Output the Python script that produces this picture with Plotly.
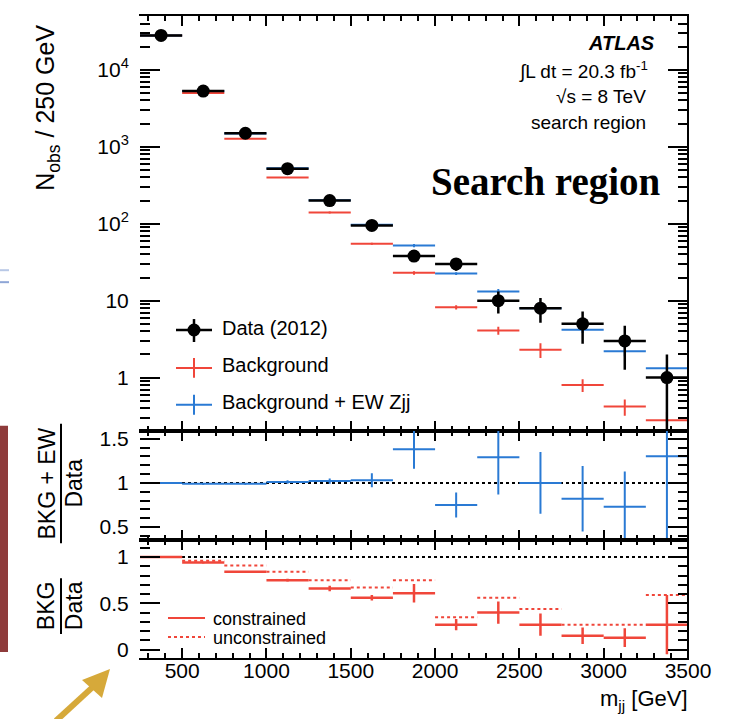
import numpy as np
import plotly.graph_objects as go

# m_jj binning (GeV)
bin_edges = [250, 500, 750, 1000, 1250, 1500, 1750, 2000, 2250, 2500, 2750, 3000, 3250, 3500]

# Main panel: observed events and predictions per 250 GeV
data_2012 = [28000, 5300, 1500, 520, 200, 95, 38, 30, 10, 8, 5, 3, 1]
background = [28000, 5000, 1270, 400, 140, 55, 23, 8.2, 4.1, 2.3, 0.8, 0.42, 0.28]
background_err = [300, 60, 15, 6, 4, 1.5, 1.2, 0.5, 0.5, 0.5, 0.15, 0.1, 0.08]
bkg_plus_ew = [28000, 5300, 1490, 525, 202, 97, 52, 22.5, 13.2, 8.0, 4.2, 2.2, 1.32]
bkg_plus_ew_err = [300, 60, 15, 6, 4, 2, 2.5, 1.0, 1.0, 1.0, 0.4, 0.3, 0.15]

# Middle panel: (BKG + EW) / Data
ratio_ew = [1.0, 0.99, 0.99, 1.01, 1.02, 1.03, 1.38, 0.75, 1.29, 1.0, 0.82, 0.73, 1.3]
ratio_ew_err = [0.01, 0.01, 0.01, 0.02, 0.03, 0.08, 0.22, 0.14, 0.42, 0.35, 0.37, 0.40, 1.3]

# Bottom panel: BKG / Data
ratio_bkg_constrained = [1.0, 0.94, 0.84, 0.75, 0.66, 0.56, 0.61, 0.27, 0.40, 0.27, 0.15, 0.13, 0.27]
ratio_bkg_constrained_err = [0.01, 0.01, 0.01, 0.015, 0.03, 0.03, 0.10, 0.06, 0.12, 0.12, 0.09, 0.10, 0.32]
ratio_bkg_unconstrained = [1.0, 0.96, 0.91, 0.84, 0.75, 0.67, 0.75, 0.35, 0.56, 0.44, 0.27, 0.27, 0.59]

RED = "#f0463a"
BLUE = "#2a7ad4"
BLACK = "#000000"
FONT = "Liberation Sans, Arial, sans-serif"

edges = np.array(bin_edges, dtype=float)
centers = 0.5 * (edges[:-1] + edges[1:])
half = 0.5 * (edges[1:] - edges[:-1])

W, H = 734, 719
ML, MR, MT, MB = 140, 46, 14, 61
PW, PH = W - ML - MR, H - MT - MB


def px(x):
    return (x - ML) / PW


def py(y):
    return (H - MB - y) / PH


def cross(x, y, ex, ey, color, thick, **kw):
    return go.Scatter(
        x=x, y=y, mode="markers", marker=dict(size=1, color=color),
        error_x=dict(type="data", array=ex, color=color, thickness=thick, width=0),
        error_y=dict(type="data", color=color, thickness=thick, width=0, **ey),
        showlegend=False, hoverinfo="skip", **kw)


fig = go.Figure()

# --- main panel ---
fig.add_trace(cross(centers, background, half, dict(array=background_err), RED, 2, xaxis="x", yaxis="y"))
fig.add_trace(cross(centers, bkg_plus_ew, half, dict(array=bkg_plus_ew_err), BLUE, 2, xaxis="x", yaxis="y"))
data_err = np.sqrt(np.array(data_2012, dtype=float))
data_err_lo = np.minimum(data_err, np.array(data_2012) * 0.999)
fig.add_trace(go.Scatter(
    x=centers, y=data_2012, mode="markers", xaxis="x", yaxis="y",
    marker=dict(size=13, color=BLACK),
    error_x=dict(type="data", array=half, color=BLACK, thickness=2.5, width=0),
    error_y=dict(type="data", array=data_err, arrayminus=data_err_lo,
                 color=BLACK, thickness=2.5, width=0),
    showlegend=False, hoverinfo="skip"))

# --- middle ratio panel ---
fig.add_trace(cross(centers, ratio_ew, half, dict(array=ratio_ew_err), BLUE, 2, xaxis="x2", yaxis="y2"))

# --- bottom ratio panel ---
ux, uy = [], []
for lo, hi, v in zip(edges[:-1], edges[1:], ratio_bkg_unconstrained):
    ux += [lo, hi, None]
    uy += [v, v, None]
fig.add_trace(go.Scatter(x=ux, y=uy, mode="lines", xaxis="x3", yaxis="y3",
                         line=dict(color=RED, width=2, dash="dot"),
                         showlegend=False, hoverinfo="skip"))
fig.add_trace(cross(centers, ratio_bkg_constrained, half, dict(array=ratio_bkg_constrained_err),
                    RED, 2.5, xaxis="x3", yaxis="y3"))

tickfont = dict(family=FONT, size=21, color=BLACK)


def xaxis(anchor, labels):
    return dict(
        domain=[0, 1], anchor=anchor, range=[250, 3500],
        showline=True, linecolor=BLACK, linewidth=2, mirror="ticks",
        ticks="inside", ticklen=10, tickwidth=2, tickcolor=BLACK,
        tick0=0, dtick=500, showgrid=False, zeroline=False,
        minor=dict(ticks="inside", ticklen=5, tickwidth=1.5, tickcolor=BLACK, dtick=100, tick0=0),
        showticklabels=labels, tickfont=tickfont, ticklabelstandoff=-7)


def yaxis(anchor, domain, **kw):
    d = dict(
        domain=domain, anchor=anchor, showline=True, linecolor="rgba(0,0,0,0)",
        mirror="ticks", ticks="inside", ticklen=20, tickwidth=2, tickcolor=BLACK,
        showgrid=False, zeroline=False, tickfont=tickfont, ticklabelstandoff=6)
    d.update(kw)
    return d


log_minor = [m * 10 ** k for k in range(-1, 5) for m in range(2, 10)]
lin_minor = [round(0.1 * i, 1) for i in range(-2, 17)]

D_TOP = py(430)
D_MID = py(540)

fig.update_layout(
    width=W, height=H,
    margin=dict(l=ML, r=MR, t=MT, b=MB),
    paper_bgcolor="white", plot_bgcolor="white",
    xaxis=xaxis("y", False),
    xaxis2=xaxis("y2", False),
    xaxis3=xaxis("y3", True),
    yaxis=yaxis("x", [D_TOP, 1], type="log", range=[-0.69, 4.70],
                tickvals=[1, 10, 100, 1000, 10000],
                ticktext=["1", "10", "10<sup>2</sup>", "10<sup>3</sup>", "10<sup>4</sup>"],
                minor=dict(ticks="inside", ticklen=10, tickwidth=1.5, tickcolor=BLACK,
                           tickmode="array", tickvals=log_minor)),
    yaxis2=yaxis("x2", [D_MID, D_TOP], range=[0.35, 1.59],
                 tickvals=[0.5, 1, 1.5], ticktext=["0.5", "1", "1.5"],
                 minor=dict(ticks="inside", ticklen=10, tickwidth=1.5, tickcolor=BLACK,
                            tickmode="array", tickvals=lin_minor)),
    yaxis3=yaxis("x3", [0, D_MID], range=[-0.09, 1.18],
                 tickvals=[0, 0.5, 1], ticktext=["0", "0.5", "1"],
                 minor=dict(ticks="inside", ticklen=10, tickwidth=1.5, tickcolor=BLACK,
                            tickmode="array", tickvals=lin_minor)),
)

shapes = []
# right-hand frame
shapes.append(dict(type="line", xref="paper", yref="paper", x0=1, x1=1, y0=0, y1=1,
                   line=dict(color=BLACK, width=2)))
# reference lines at unity
for ya in ("y2", "y3"):
    shapes.append(dict(type="line", xref="paper", yref=ya, x0=0, x1=1, y0=1, y1=1,
                       layer="below", line=dict(color=BLACK, width=2, dash="dot")))


def seg(x0, y0, x1, y1, color, width, dash=None):
    ln = dict(color=color, width=width)
    if dash:
        ln["dash"] = dash
    return dict(type="line", xref="paper", yref="paper",
                x0=px(x0), y0=py(y0), x1=px(x1), y1=py(y1), line=ln)


# legend symbols (main panel)
shapes += [
    seg(176, 329, 212, 329, BLACK, 2.5), seg(194, 318, 194, 341, BLACK, 2.5),
    dict(type="circle", xref="paper", yref="paper", x0=px(187.5), x1=px(200.5),
         y0=py(335.5), y1=py(322.5), fillcolor=BLACK, line=dict(color=BLACK, width=0)),
    seg(176, 367, 212, 367, RED, 2), seg(194, 357, 194, 377, RED, 2),
    seg(176, 404, 212, 404, BLUE, 2), seg(194, 394, 194, 414, BLUE, 2),
]
# legend symbols (bottom panel)
shapes += [
    seg(168, 618, 205, 618, RED, 2),
    seg(168, 637, 205, 637, RED, 2, dash="dot"),
]
# fraction bars of the ratio-panel titles
shapes += [
    seg(61, 423, 61, 543, BLACK, 2),
    seg(61, 578, 61, 634, BLACK, 2),
]
# page margin marks
shapes += [
    dict(type="rect", xref="paper", yref="paper", x0=px(0), x1=px(8), y0=py(652), y1=py(425),
         fillcolor="#8e3b3b", line=dict(width=0)),
    dict(type="rect", xref="paper", yref="paper", x0=px(0), x1=px(9), y0=py(270), y1=py(268),
         fillcolor="#b8c8e6", line=dict(width=0)),
    dict(type="rect", xref="paper", yref="paper", x0=px(0), x1=px(9), y0=py(282), y1=py(280),
         fillcolor="#8ea6d6", line=dict(width=0)),
    seg(56, 721, 94, 686, "#d6a93a", 6),
    dict(type="path", xref="paper", yref="paper",
         path=f"M {px(110)},{py(669)} L {px(82)},{py(680)} L {px(102)},{py(698)} Z",
         fillcolor="#d6a93a", line=dict(width=0)),
]

ann = []


def text(x, y, s, size=19, xanchor="left", angle=0, family=FONT, **kw):
    ann.append(dict(x=px(x), y=py(y), xref="paper", yref="paper", text=s, showarrow=False,
                    xanchor=xanchor, yanchor="middle", textangle=angle,
                    font=dict(family=family, size=size, color=BLACK), **kw))


text(220, 327, "Data (2012)", 20)
text(220, 364, "Background", 20)
text(220, 401, "Background + EW Zjj", 20)
text(211, 619, "constrained", 18)
text(211, 638, "unconstrained", 18)

text(657, 41, "<b><i>ATLAS</i></b>", 20, xanchor="right")
text(650, 69, "∫L dt = 20.3 fb<sup>-1</sup>", 19, xanchor="right")
text(648, 95, "√s = 8 TeV", 19, xanchor="right")
text(648, 121, "search region", 19, xanchor="right")
text(546, 181, "<b>Search region</b>", 39, xanchor="center",
     family="Liberation Serif, Times New Roman, serif")

text(47, 106, "N<sub>obs</sub> / 250 GeV", 25, xanchor="center", angle=-90)
text(47, 483, "BKG + EW", 23, xanchor="center", angle=-90)
text(74, 483, "Data", 23, xanchor="center", angle=-90)
text(46, 606, "BKG", 23, xanchor="center", angle=-90)
text(74, 606, "Data", 23, xanchor="center", angle=-90)

text(690, 700, "m<sub>jj</sub> [GeV]", 22, xanchor="right")

fig.update_layout(shapes=shapes, annotations=ann)

fig.write_html("out.html")
